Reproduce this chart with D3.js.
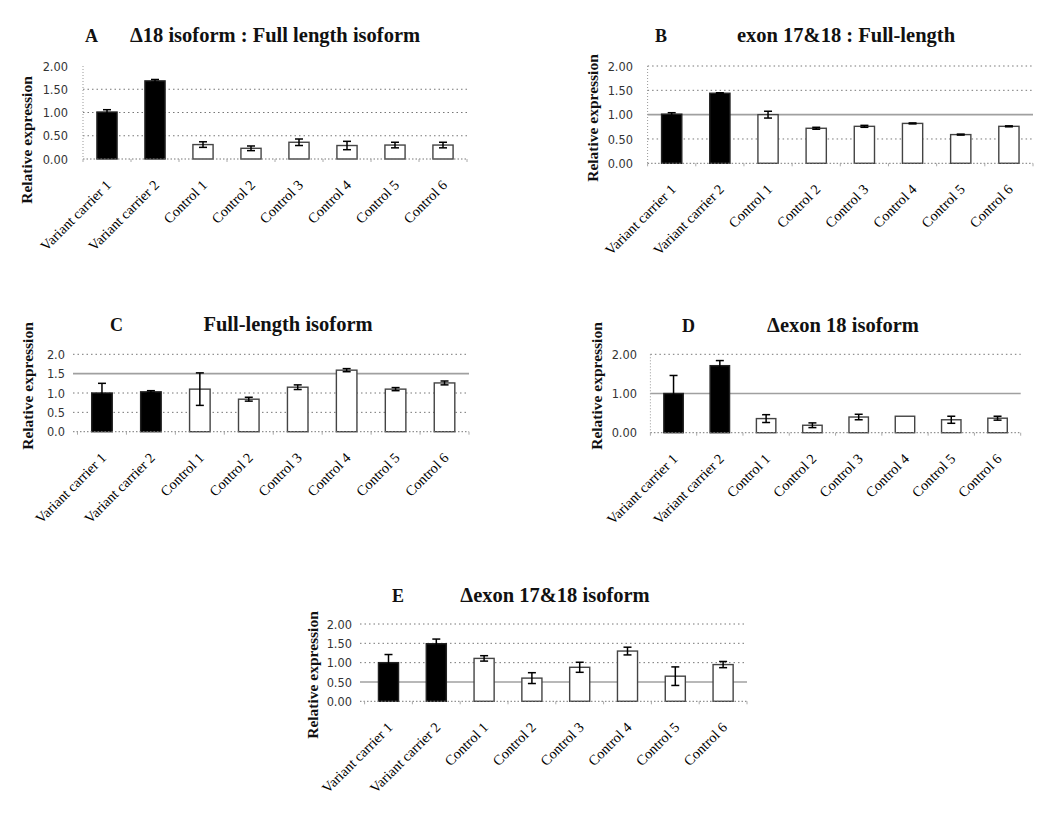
<!DOCTYPE html>
<html><head><meta charset="utf-8">
<script src="https://cdn.jsdelivr.net/npm/d3@7"></script>
<style>
html,body{margin:0;padding:0;background:#fff;}
svg{display:block;}
</style></head>
<body>
<svg id="chart" width="1050" height="813"></svg>
<script>
// ---------- data ----------
const categories = ["Variant carrier 1","Variant carrier 2","Control 1","Control 2","Control 3","Control 4","Control 5","Control 6"];
const groups = ["carrier","carrier","control","control","control","control","control","control"];

const titlesLetter = ["A","B","C","D","E"];
const titlesText = ["\u039418 isoform : Full length isoform","exon 17&18 : Full-length","Full-length isoform","\u0394exon 18 isoform","\u0394exon 17&18 isoform"];
const yAxisTitle = "Relative expression";

const valuesA = [1.01, 1.68, 0.31, 0.23, 0.36, 0.29, 0.30, 0.30];
const errorsA = [0.05, 0.03, 0.06, 0.05, 0.07, 0.09, 0.06, 0.06];
const valuesB = [1.01, 1.44, 1.00, 0.72, 0.76, 0.82, 0.59, 0.76];
const errorsB = [0.03, 0.01, 0.07, 0.02, 0.02, 0.01, 0.01, 0.01];
const valuesC = [1.00, 1.03, 1.10, 0.84, 1.15, 1.59, 1.10, 1.26];
const errorsC = [0.25, 0.03, 0.42, 0.05, 0.06, 0.04, 0.04, 0.05];
const valuesD = [1.00, 1.71, 0.36, 0.19, 0.40, 0.42, 0.33, 0.37];
const errorsD = [0.46, 0.13, 0.10, 0.06, 0.07, 0.00, 0.09, 0.05];
const valuesE = [1.00, 1.49, 1.11, 0.60, 0.88, 1.30, 0.65, 0.95];
const errorsE = [0.21, 0.12, 0.07, 0.14, 0.13, 0.10, 0.24, 0.08];

const ticksA = [0, 0.5, 1, 1.5, 2];
const ticksB = [0, 0.5, 1, 1.5, 2];
const ticksC = [0, 0.5, 1, 1.5, 2];
const ticksD = [0, 1, 2];
const ticksE = [0, 0.5, 1, 1.5, 2];

// ---------- layout ----------
const panels = [
  {values: valuesA, errors: errorsA, ticks: ticksA, fmt: ".2f", x0: 83, x1: 467, yTop: 66, yBot: 159,
   gridStart: 83, vAxis: true, solid: [], noGrid: [2], letterX: 85, titleX: 275, titleY: 42, labelX: 27, labelY: 140, tickX: 68},
  {values: valuesB, errors: errorsB, ticks: ticksB, fmt: ".2f", x0: 647.6, x1: 1033, yTop: 66, yBot: 163.3,
   gridStart: 647.6, vAxis: true, solid: [1], noGrid: [], letterX: 655, titleX: 846, titleY: 42, labelX: 593, labelY: 118, tickX: 633},
  {values: valuesC, errors: errorsC, ticks: ticksC, fmt: ".1f", x0: 77.5, x1: 469, yTop: 354.3, yBot: 431.7,
   gridStart: 73, vAxis: false, solid: [1.5], noGrid: [], letterX: 110, titleX: 288, titleY: 331, labelX: 28, labelY: 386, tickX: 65},
  {values: valuesD, errors: errorsD, ticks: ticksD, fmt: ".2f", x0: 650.4, x1: 1020.7, yTop: 354.3, yBot: 432.7,
   gridStart: 650.4, vAxis: true, solid: [1], noGrid: [], letterX: 682, titleX: 843, titleY: 332, labelX: 597, labelY: 386, tickX: 637},
  {values: valuesE, errors: errorsE, ticks: ticksE, fmt: ".2f", x0: 364.6, x1: 747, yTop: 624, yBot: 701.3,
   gridStart: 360, vAxis: false, solid: [0.5], noGrid: [], letterX: 392, titleX: 555, titleY: 602, labelX: 313, labelY: 675, tickX: 352}
];

const svg = d3.select("#chart");
const serif = "Liberation Serif, Times New Roman, serif";

panels.forEach((p, pi) => {
  const g = svg.append("g");
  const x = d3.scaleBand().domain(categories).range([p.x0, p.x1]).paddingInner(0.58).paddingOuter(0.29);
  const y = d3.scaleLinear().domain([0, 2]).range([p.yBot, p.yTop]);
  const step = (p.x1 - p.x0) / categories.length;

  // gridlines
  p.ticks.filter(t => t > 0 && !p.noGrid.includes(t)).forEach(t => {
    const isSolid = p.solid.includes(t);
    g.append("line")
      .attr("x1", p.gridStart).attr("x2", p.x1)
      .attr("y1", y(t)).attr("y2", y(t))
      .attr("stroke", isSolid ? "#a0a0a0" : "#777")
      .attr("stroke-width", isSolid ? 1.6 : 1)
      .attr("stroke-dasharray", isSolid ? null : "1.5,3");
  });

  // vertical axis (dotted)
  if (p.vAxis) {
    g.append("line").attr("x1", p.x0).attr("x2", p.x0)
      .attr("y1", p.yTop).attr("y2", p.yBot)
      .attr("stroke", "#999").attr("stroke-width", 1).attr("stroke-dasharray", "1,2");
  }

  // y tick labels via axis
  const yAxis = d3.axisLeft(y).tickValues(p.ticks).tickFormat(d3.format(p.fmt)).tickSize(0).tickPadding(0);
  const ya = g.append("g").attr("transform", `translate(${p.tickX},0)`).call(yAxis);
  ya.select(".domain").remove();
  ya.selectAll("text")
    .attr("font-family", "DejaVu Sans, Verdana, sans-serif")
    .attr("font-size", 11.4)
    .attr("fill", "#333")
    .attr("dy", "0.36em");

  // bars
  g.selectAll("rect.bar").data(p.values).join("rect")
    .attr("class", "bar")
    .attr("x", (d, i) => x(categories[i]))
    .attr("width", x.bandwidth())
    .attr("y", d => y(d))
    .attr("height", d => y(0) - y(d))
    .attr("fill", (d, i) => groups[i] === "carrier" ? "#000" : "#fff")
    .attr("stroke", (d, i) => groups[i] === "carrier" ? "#222" : "#444")
    .attr("stroke-width", 1.4);

  // baseline (dotted)
  g.append("line").attr("x1", p.gridStart).attr("x2", p.x1)
    .attr("y1", y(0)).attr("y2", y(0))
    .attr("stroke", "#777").attr("stroke-width", 1).attr("stroke-dasharray", "1.5,2");

  // category tick marks
  d3.range(categories.length + 1).forEach(k => {
    g.append("line").attr("x1", p.x0 + k * step).attr("x2", p.x0 + k * step)
      .attr("y1", y(0)).attr("y2", y(0) + 3)
      .attr("stroke", "#aaa").attr("stroke-width", 1);
  });

  // error bars
  const eg = g.selectAll("g.err").data(p.values.map((v, i) => ({v, e: p.errors[i], c: categories[i]}))
    .filter(d => d.e > 0)).join("g").attr("class", "err");
  eg.append("line")
    .attr("x1", d => x(d.c) + x.bandwidth() / 2).attr("x2", d => x(d.c) + x.bandwidth() / 2)
    .attr("y1", d => y(d.v - d.e)).attr("y2", d => y(d.v + d.e))
    .attr("stroke", "#000").attr("stroke-width", 1.5);
  [1, -1].forEach(s => {
    eg.append("line")
      .attr("x1", d => x(d.c) + x.bandwidth() / 2 - 4).attr("x2", d => x(d.c) + x.bandwidth() / 2 + 4)
      .attr("y1", d => y(d.v + s * d.e)).attr("y2", d => y(d.v + s * d.e))
      .attr("stroke", "#000").attr("stroke-width", 1.5);
  });

  // x labels
  g.selectAll("text.xl").data(categories).join("text")
    .attr("class", "xl")
    .attr("transform", d => `translate(${x(d) + x.bandwidth() / 2 + 5},${y(0) + 27}) rotate(-45)`)
    .attr("text-anchor", "end")
    .attr("font-family", serif)
    .attr("font-size", 14.3)
    .attr("fill", "#000")
    .text(d => d);

  // y axis title
  g.append("text")
    .attr("transform", `translate(${p.labelX + 5},${p.labelY}) rotate(-90)`)
    .attr("text-anchor", "middle")
    .attr("font-family", serif)
    .attr("font-weight", "bold")
    .attr("font-size", 15.5)
    .attr("fill", "#111")
    .text(yAxisTitle);

  // panel letter and title
  g.append("text")
    .attr("x", p.letterX).attr("y", p.titleY)
    .attr("font-family", serif)
    .attr("font-weight", "bold").attr("font-size", 18).attr("fill", "#111")
    .text(titlesLetter[pi]);
  g.append("text")
    .attr("x", p.titleX).attr("y", p.titleY)
    .attr("text-anchor", "middle")
    .attr("font-family", serif)
    .attr("font-weight", "bold").attr("font-size", 20.5).attr("fill", "#111")
    .text(titlesText[pi]);
});
</script>
</body></html>
